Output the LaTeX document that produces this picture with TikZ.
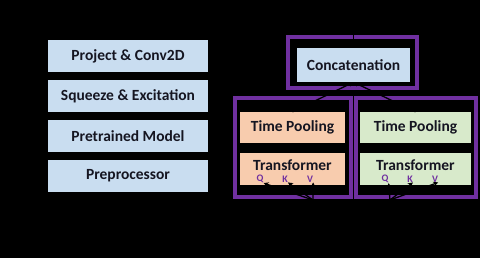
\documentclass[tikz,border=0pt]{standalone}
\usepackage{fontspec}
\setmainfont{Carlito}
\usetikzlibrary{arrows.meta}
\definecolor{boxblue}{HTML}{C9DDF0}
\definecolor{boxorange}{HTML}{F8CCAE}
\definecolor{boxgreen}{HTML}{D8EACB}
\definecolor{grpurple}{HTML}{7030A0}
\definecolor{inktext}{HTML}{151521}
\tikzset{
  stage/.style={rectangle, inner sep=0pt, text=inktext, font=\fontsize{15.5}{16}\selectfont\bfseries},
  bluebox/.style={stage, fill=boxblue},
  orangebox/.style={stage, fill=boxorange},
  greenbox/.style={stage, fill=boxgreen},
  groupframe/.style={draw=grpurple, line width=4pt},
  flow/.style={draw=black, line width=1.3pt, -{Stealth[length=5pt,width=5pt]}},
  qkv/.style={text=grpurple, font=\fontsize{10}{11}\selectfont\bfseries, inner sep=0pt}
}
\begin{document}
\begin{tikzpicture}[x=1pt,y=-1pt]
  % canvas
  \fill[black] (0,0) rectangle (480,258);
  \useasboundingbox (0,0) rectangle (480,258);

  % purple group frames
  \draw[groupframe] (288,37) rectangle (417,88);
  \draw[groupframe] (235,98) rectangle (351,197);
  \draw[groupframe] (356,98) rectangle (476,197);

  % left column: feature extractor
  \node[bluebox, minimum width=160pt, minimum height=32pt] (proj) at (128,56) {Project \& Conv2D};
  \node[bluebox, minimum width=160pt, minimum height=32pt] (se)   at (128,96) {Squeeze \& Excitation};
  \node[bluebox, minimum width=160pt, minimum height=32pt] (pre)  at (128,136) {Pretrained Model};
  \node[bluebox, minimum width=160pt, minimum height=32pt] (prep) at (128,176) {Preprocessor};
  \coordinate (inbot) at (128,215);
  \coordinate (outtop) at (128,22);
  \coordinate (seleft) at (20,96);

  % right side: branches and fusion
  \node[bluebox, minimum width=113pt, minimum height=34pt] (cat) at (353.5,65) {Concatenation};
  \node[orangebox, minimum width=105pt, minimum height=31pt] (tpl) at (292.5,127.5) {Time Pooling};
  \node[orangebox, minimum width=105pt, minimum height=32pt, text depth=7pt] (trl) at (292.5,169) {Transformer};
  \node[greenbox, minimum width=111pt, minimum height=31pt] (tpr) at (415.5,127.5) {Time Pooling};
  \node[greenbox, minimum width=111pt, minimum height=32pt, text depth=7pt] (trr) at (415.5,169) {Transformer};
  \coordinate (cattop) at (353.5,22);

  % attention inputs
  \node[qkv] (ql) at (260,179) {Q};
  \node[qkv] (kl) at (285,179) {K};
  \node[qkv] (vl) at (310,179) {V};
  \node[qkv] (qr) at (385,179) {Q};
  \node[qkv] (kr) at (410,179) {K};
  \node[qkv] (vr) at (435,179) {V};
  \coordinate (srcl) at (313,200);
  \coordinate (srcr) at (390,200);

  % flow of the left column
  \draw[flow] (inbot) -- (prep.south);
  \draw[flow] (prep.north) -- (pre.south);
  \draw[flow] (pre.north) -- (se.south);
  \draw[flow] (se.north) -- (proj.south);
  \draw[flow] (proj.north) -- (outtop);
  \draw[flow] (seleft) -- (se.west);

  % flow of the branches
  \draw[flow] (srcl) -- (ql.south east);
  \draw[flow] (srcl) -- (kl.south east);
  \draw[flow] (srcl) -- (vl.south east);
  \draw[flow] (srcr) -- (qr.south east);
  \draw[flow] (srcr) -- (kr.south east);
  \draw[flow] (srcr) -- (vr.south east);
  \draw[flow] (trl.north) -- (tpl.south);
  \draw[flow] (trr.north) -- (tpr.south);
  \draw[flow] (tpl.north) -- (cat.south);
  \draw[flow] (tpr.north) -- (cat.south);
  \draw[flow] (cat.north) -- (cattop);
\end{tikzpicture}
\end{document}
